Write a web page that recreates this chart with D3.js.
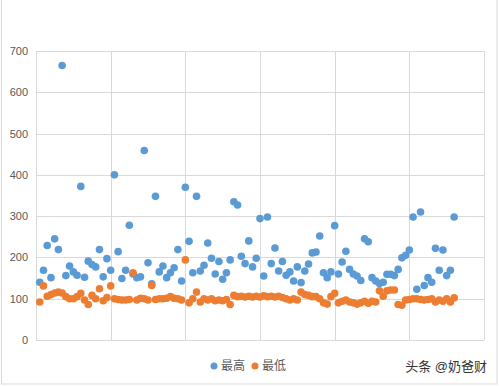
<!DOCTYPE html>
<html>
<head>
<meta charset="utf-8">
<script src="https://cdn.jsdelivr.net/npm/d3@7"></script>
<style>
  body { margin: 0; background: #fff; }
  text { font-family: "Liberation Sans", "Noto Sans CJK SC", sans-serif; }
</style>
</head>
<body>
<script>
var width = 499,
    height = 386;

// one point per day, index 1..112
var high = [140, 169, 229, 151, 245, 219, 665, 156, 179, 165, 157, 372, 152, 191, 183, 177, 219, 153, 197, 169,
  400, 214, 149, 169, 278, 160, 151, 153, 459, 187, 136, 348, 165, 179, 151, 163, 175, 219, 143, 370,
  239, 163, 348, 167, 181, 235, 198, 160, 190, 147, 163, 194, 335, 327, 203, 185, 240, 177, 198, 294,
  155, 298, 185, 223, 167, 190, 157, 165, 143, 177, 139, 167, 184, 211, 213, 252, 163, 151, 165, 277,
  160, 189, 215, 171, 160, 155, 144, 245, 238, 151, 143, 137, 140, 159, 159, 156, 171, 199, 205, 218,
  298, 123, 310, 132, 151, 140, 222, 169, 218, 156, 169, 298];
var low = [92, 131, 106, 110, 114, 116, 114, 105, 100, 100, 105, 113, 97, 86, 108, 100, 124, 95, 103, 131,
  100, 98, 97, 97, 98, 163, 97, 101, 100, 97, 132, 98, 100, 100, 101, 105, 101, 100, 97, 194,
  90, 100, 116, 92, 100, 97, 100, 95, 97, 95, 98, 86, 108, 105, 106, 104, 106, 104, 106, 104,
  107, 105, 106, 104, 106, 103, 100, 97, 100, 97, 116, 110, 108, 105, 105, 100, 90, 87, 105, 113,
  90, 94, 97, 92, 90, 87, 90, 94, 89, 94, 92, 119, 106, 119, 121, 121, 86, 84, 97, 98,
  100, 100, 98, 97, 98, 100, 92, 97, 94, 100, 92, 102];
var seriesNames = ["最高", "最低"];
var colors = ["#5b9bd5", "#ed7d31"];
var yTicks = [0, 100, 200, 300, 400, 500, 600, 700];
var xTicks = [0, 20, 40, 60, 80, 100, 120];

var svg = d3.select("body").append("svg")
    .attr("width", width)
    .attr("height", height);

// outer frame
svg.append("rect")
    .attr("x", 1.5).attr("y", -2)
    .attr("width", 495.5).attr("height", 386)
    .attr("fill", "none").attr("stroke", "#d9d9d9");

var x = d3.scaleLinear().domain([0, 120]).range([36, 484]);
var y = d3.scaleLinear().domain([0, 700]).range([340, 51]);

var grid = svg.append("g");
grid.selectAll(".hg").data(yTicks).enter().append("line")
    .attr("x1", x(0)).attr("x2", x(120))
    .attr("y1", function(d) { return Math.round(y(d)) + 0.5; })
    .attr("y2", function(d) { return Math.round(y(d)) + 0.5; })
    .attr("stroke", "#d9d9d9");
grid.selectAll(".vg").data(xTicks).enter().append("line")
    .attr("y1", y(0)).attr("y2", y(700))
    .attr("x1", function(d) { return Math.round(x(d)) + 0.5; })
    .attr("x2", function(d) { return Math.round(x(d)) + 0.5; })
    .attr("stroke", "#d9d9d9");

var yAxis = svg.append("g")
    .attr("transform", "translate(" + x(0) + ",0)")
    .call(d3.axisLeft(y).tickValues(yTicks).tickSize(0).tickPadding(8));
yAxis.select(".domain").remove();
yAxis.selectAll("text")
    .attr("fill", "#595959")
    .style("font-size", "11px");

var idx = d3.range(1, high.length + 1);
[high, low].forEach(function(vals, s) {
  svg.append("g").selectAll("circle")
      .data(idx)
      .enter().append("circle")
      .attr("cx", function(d) { return x(d); })
      .attr("cy", function(d) { return y(vals[d - 1]); })
      .attr("r", 3.8)
      .attr("fill", colors[s]);
});

// legend
var legend = svg.append("g").attr("transform", "translate(214,366)");
var items = legend.selectAll("g").data(seriesNames).enter().append("g")
    .attr("transform", function(d, i) { return "translate(" + (i * 41) + ",0)"; });
items.append("circle").attr("r", 3.5).attr("fill", function(d, i) { return colors[i]; });
items.append("text")
    .attr("x", 7).attr("dy", "0.36em")
    .attr("fill", "#595959")
    .style("font-size", "12px")
    .text(function(d) { return d; });

// watermark
svg.append("text")
    .attr("x", 487).attr("y", 371)
    .attr("text-anchor", "end")
    .attr("fill", "#333")
    .style("font-size", "13px")
    .text("头条 @奶爸财");
</script>
</body>
</html>
